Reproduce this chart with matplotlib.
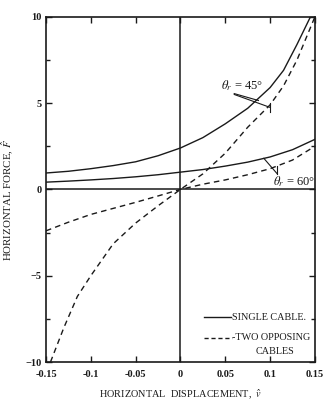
import matplotlib
matplotlib.use("Agg")
import matplotlib.pyplot as plt
from matplotlib.ticker import MultipleLocator

plt.rcParams['font.family'] = ['Liberation Serif', 'DejaVu Serif']
plt.rcParams['mathtext.fontset'] = 'stix'

# data
x_grid = [-0.15, -0.125, -0.1, -0.075, -0.05, -0.025, 0, 0.025, 0.05, 0.075, 0.1, 0.125, 0.15]

single45_x = [-0.15, -0.125, -0.1, -0.075, -0.05, -0.025, 0, 0.025, 0.05, 0.075, 0.1, 0.115, 0.13, 0.145]
single45_f = [0.95, 1.05, 1.2, 1.38, 1.6, 1.95, 2.4, 3.0, 3.8, 4.7, 5.9, 6.9, 8.4, 10.0]

single60_f = [0.42, 0.48, 0.55, 0.63, 0.73, 0.85, 1.0, 1.15, 1.35, 1.58, 1.88, 2.3, 2.9]

two45_x = [-0.145, -0.13, -0.115, -0.1, -0.075, -0.05, -0.025, 0, 0.025, 0.05, 0.075, 0.1, 0.115, 0.13, 0.15]
two45_f = [-10, -8.0, -6.2, -5.0, -3.15, -1.95, -0.95, 0, 0.9, 2.1, 3.6, 4.9, 6.0, 7.5, 10]

two60_f = [-2.4, -1.9, -1.45, -1.1, -0.75, -0.38, 0, 0.3, 0.55, 0.85, 1.2, 1.7, 2.5]

xticks = [-0.15, -0.1, -0.05, 0, 0.05, 0.1, 0.15]
xtick_labels = ['-0.15', '-0.1', '-0.05', '0', '0.05', '0.1', '0.15']
yticks = [-10, -5, 0, 5, 10]

ink = '#1a1a1a'

fig = plt.figure(figsize=(3.24, 4.0), dpi=100)
ax = fig.add_axes([0.142, 0.095, 0.83, 0.863])

ax.plot(single45_x, single45_f, color=ink, lw=1.0)
ax.plot(x_grid, single60_f, color=ink, lw=1.0)
ax.plot(two45_x, two45_f, color=ink, lw=1.0, dashes=(4, 3))
ax.plot(x_grid, two60_f, color=ink, lw=1.0, dashes=(4, 3))

ax.axhline(0, color=ink, lw=1.1)
ax.axvline(0, color=ink, lw=1.1)

ax.set_xlim(-0.15, 0.15)
ax.set_ylim(-10, 10)
ax.set_xticks(xticks)
ax.set_xticklabels(xtick_labels)
ax.set_yticks(yticks)
ax.yaxis.set_minor_locator(MultipleLocator(2.5))
ax.tick_params(which='both', direction='in', top=True, right=True,
               labelsize=7.5, colors=ink, width=1.0)
ax.tick_params(which='major', length=4)
ax.tick_params(axis='x', pad=6)
ax.tick_params(axis='y', pad=3)
ax.tick_params(which='minor', length=3)
for lab in ax.get_xticklabels() + ax.get_yticklabels():
    lab.set_fontweight('bold')
for s in ax.spines.values():
    s.set_linewidth(1.2)
    s.set_color(ink)

ax.set_ylabel(r'HORIZONTAL FORCE, $\hat{F}$', fontsize=7.8, color=ink)
ax.yaxis.set_label_coords(-0.115, 0.47)
ax.set_xlabel(r'HORIZONTAL  DISPLACEMENT,  $\hat{v}$', fontsize=7.4, color=ink, labelpad=6)

# theta_r = 45 deg label with leaders
ax.text(0.045, 5.6, r'$\theta_r$ = 45°', fontsize=9, color=ink, ha='left', va='bottom')
ax.plot([0.06, 0.087], [5.55, 5.15], color=ink, lw=0.8)
ax.plot([0.06, 0.1], [5.5, 4.75], color=ink, lw=0.8)
ax.plot([0.1, 0.1], [4.5, 5.0], color=ink, lw=0.8)

# theta_r = 60 deg label with leaders
ax.text(0.103, 0.05, r'$\theta_r$ = 60°', fontsize=9, color=ink, ha='left', va='bottom', clip_on=False)
ax.plot([0.108, 0.093], [0.9, 1.8], color=ink, lw=0.8)
ax.plot([0.108, 0.108], [0.9, 1.38], color=ink, lw=0.8)

# legend drawn by hand like the original
ax.plot([0.026, 0.056], [-7.4, -7.4], color=ink, lw=1.0)
ax.text(0.057, -7.4, 'SINGLE CABLE.', fontsize=7.3, color=ink, va='center', ha='left')
ax.plot([0.026, 0.057], [-8.6, -8.6], color=ink, lw=1.0, dashes=(3, 2))
ax.text(0.057, -8.6, '-TWO OPPOSING', fontsize=7.3, color=ink, va='center', ha='left')
ax.text(0.106, -9.4, 'CABLES', fontsize=7.3, color=ink, va='center', ha='center')

fig.savefig('out.png', dpi=100)
